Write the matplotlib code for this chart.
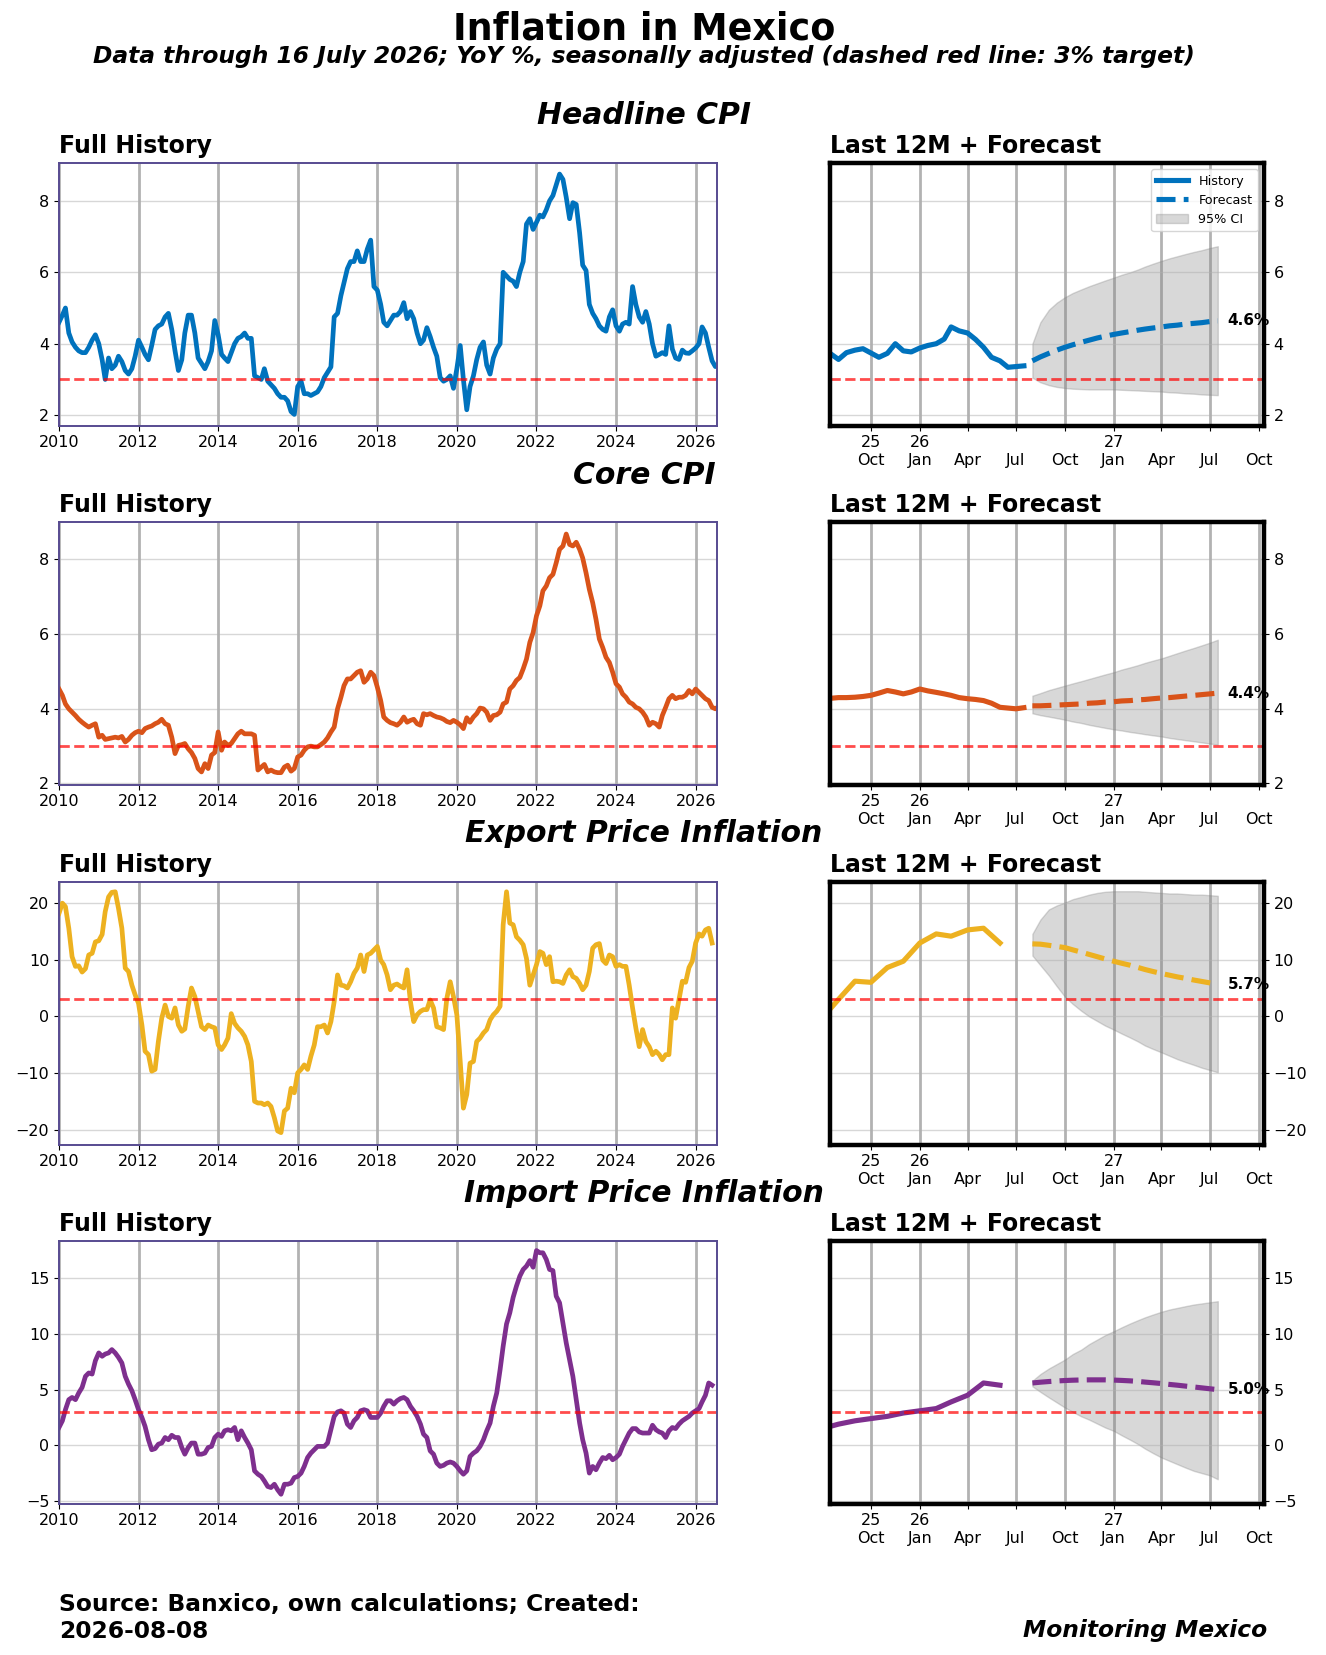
import matplotlib
matplotlib.use('Agg')
import matplotlib.pyplot as plt
import matplotlib.dates as mdates
import pandas as pd

plt.rcParams['font.family'] = ['DejaVu Sans']

# ---------------- data ----------------
headline_monthly = [
    4.6, 4.8, 5.0, 4.3, 4.05, 3.9, 3.8, 3.75, 3.75, 3.9,
    4.1, 4.25, 4.0, 3.55, 3.0, 3.6, 3.3, 3.4, 3.65, 3.5,
    3.25, 3.15, 3.3, 3.65, 4.1, 3.9, 3.7, 3.55, 3.95, 4.4,
    4.5, 4.55, 4.75, 4.85, 4.4, 3.8, 3.25, 3.55, 4.3, 4.8,
    4.8, 4.3, 3.6, 3.45, 3.3, 3.5, 3.8, 4.65, 4.25, 3.7,
    3.6, 3.5, 3.75, 4.0, 4.15, 4.2, 4.3, 4.15, 4.15, 3.1,
    3.05, 3.0, 3.3, 2.95, 2.85, 2.75, 2.6, 2.5, 2.5, 2.4,
    2.1, 2.02, 2.8, 2.95, 2.6, 2.6, 2.55, 2.6, 2.65, 2.8,
    3.05, 3.2, 3.35, 4.75, 4.85, 5.35, 5.7, 6.1, 6.3, 6.3,
    6.6, 6.3, 6.3, 6.65, 6.9, 5.6, 5.5, 5.1, 4.6, 4.5,
    4.65, 4.8, 4.8, 4.9, 5.15, 4.7, 4.9, 4.7, 4.3, 4.0,
    4.1, 4.45, 4.2, 3.9, 3.65, 3.05, 2.95, 3.0, 3.1, 2.75,
    3.3, 3.95, 3.0, 2.15, 2.8, 3.1, 3.55, 3.9, 4.05, 3.4,
    3.15, 3.6, 3.85, 4.0, 6.0, 5.9, 5.8, 5.75, 5.6, 6.0,
    6.3, 7.35, 7.5, 7.2, 7.4, 7.6, 7.55, 7.75, 8.0, 8.15,
    8.45, 8.75, 8.6, 8.1, 7.5, 7.95, 7.9, 7.1, 6.2, 6.05,
    5.1, 4.85, 4.7, 4.5, 4.4, 4.35, 4.75, 4.95, 4.5, 4.35,
    4.55, 4.6, 4.55, 5.6, 5.1, 4.75, 4.6, 4.9, 4.55, 4.0,
    3.65, 3.7, 3.75, 3.7, 4.5, 3.85, 3.6, 3.56, 3.82, 3.74,
    3.73, 3.8, 3.88, 4.0, 4.47, 4.3, 3.9, 3.52, 3.36, 3.38,
]

core_monthly = [
    4.53, 4.36, 4.13, 4.0, 3.91, 3.82, 3.72, 3.64, 3.57, 3.51,
    3.56, 3.6, 3.24, 3.29, 3.18, 3.2, 3.22, 3.24, 3.22, 3.26,
    3.11, 3.18, 3.29, 3.36, 3.4, 3.36, 3.47, 3.51, 3.54, 3.6,
    3.64, 3.72, 3.6, 3.56, 3.24, 2.8, 3.02, 3.04, 3.07, 2.93,
    2.83, 2.67, 2.4, 2.31, 2.53, 2.4, 2.76, 2.83, 3.38, 2.89,
    3.11, 3.02, 3.07, 3.2, 3.33, 3.4, 3.33, 3.33, 3.33, 3.29,
    2.36, 2.44, 2.51, 2.31, 2.36, 2.31, 2.29, 2.29, 2.44, 2.49,
    2.33, 2.4, 2.71, 2.76, 2.89, 2.98, 3.0, 2.98, 2.98, 3.04,
    3.11, 3.22, 3.38, 3.51, 4.0, 4.31, 4.62, 4.8, 4.8, 4.89,
    4.98, 5.02, 4.71, 4.8, 4.98, 4.89, 4.58, 4.22, 3.78, 3.69,
    3.63, 3.6, 3.56, 3.64, 3.78, 3.64, 3.69, 3.72, 3.6, 3.56,
    3.87, 3.84, 3.87, 3.82, 3.78, 3.76, 3.72, 3.66, 3.63, 3.69,
    3.64, 3.57, 3.47, 3.76, 3.64, 3.78, 3.87, 4.02, 4.0, 3.91,
    3.69, 3.82, 3.84, 3.91, 4.13, 4.18, 4.53, 4.62, 4.76, 4.84,
    5.07, 5.33, 5.78, 6.04, 6.49, 6.76, 7.16, 7.29, 7.51, 7.6,
    7.91, 8.27, 8.36, 8.68, 8.4, 8.36, 8.46, 8.27, 8.04, 7.64,
    7.2, 6.84, 6.4, 5.87, 5.64, 5.38, 5.24, 4.98, 4.67, 4.58,
    4.4, 4.31, 4.18, 4.13, 4.04, 4.0, 3.91, 3.78, 3.56, 3.64,
    3.6, 3.51, 3.82, 4.04, 4.27, 4.36, 4.27, 4.31, 4.31, 4.36,
    4.49, 4.4, 4.53, 4.44, 4.36, 4.27, 4.22, 4.04, 4.0, 4.03,
]

export_monthly = [
    18.1, 19.9, 19.3, 15.5, 10.5, 8.8, 8.9, 7.8, 8.4, 10.8,
    11.1, 13.1, 13.3, 14.4, 18.4, 21.0, 21.8, 21.9, 19.0, 15.5,
    8.5, 7.9, 5.5, 3.8, 2.3, -1.5, -6.1, -6.7, -9.6, -9.3,
    -4.4, -0.3, 2.0, 0.0, -0.3, 1.5, -1.5, -2.6, -2.2, 1.8,
    5.0, 3.5, 0.9, -1.8, -2.3, -1.5, -1.8, -2.0, -5.0, -5.8,
    -5.0, -3.8, 0.5, -1.2, -2.0, -2.6, -3.5, -5.0, -7.9, -14.9,
    -15.2, -15.2, -15.5, -15.2, -15.8, -17.8, -20.1, -20.4, -16.6, -16.1,
    -12.6, -13.4, -9.9, -9.3, -8.5, -9.3, -7.0, -5.0, -1.8, -1.8,
    -1.5, -2.9, -0.9, 2.6, 7.3, 5.5, 5.4, 5.0, 6.1, 7.6,
    8.5, 10.8, 7.9, 10.8, 11.1, 11.7, 12.3, 9.9, 9.1, 7.3,
    4.7, 5.5, 5.7, 5.3, 5.0, 8.2, 2.6, -0.9, 0.3, 0.9,
    1.2, 1.2, 2.9, 1.5, -1.8, -2.0, -2.3, 3.2, 6.1, 3.5,
    0.3, -7.9, -16.1, -13.7, -8.2, -7.9, -4.4, -3.8, -2.9, -2.3,
    -0.6, 0.3, 0.9, 1.8, 16.1, 21.9, 16.4, 16.1, 14.0, 13.4,
    12.6, 10.2, 5.5, 7.3, 9.1, 11.4, 11.1, 9.1, 10.5, 6.1,
    6.2, 6.1, 5.8, 7.3, 8.2, 7.0, 6.7, 5.8, 4.7, 5.5,
    7.9, 12.0, 12.6, 12.8, 9.9, 9.3, 10.8, 10.5, 8.8, 9.1,
    8.8, 8.8, 5.5, 1.5, -2.0, -5.3, -2.3, -4.4, -5.3, -6.7,
    -6.1, -6.7, -7.6, -6.7, -6.7, 1.5, -0.3, 3.0, 6.2, 6.0,
    8.6, 9.7, 12.9, 14.5, 14.1, 15.2, 15.5, 12.9,
]

import_monthly = [
    1.6, 2.2, 3.2, 4.1, 4.3, 4.1, 4.7, 5.2, 6.2, 6.5,
    6.4, 7.6, 8.3, 8.0, 8.2, 8.3, 8.6, 8.3, 7.9, 7.4,
    6.2, 5.5, 4.9, 4.1, 3.2, 2.5, 1.7, 0.5, -0.4, -0.3,
    0.1, 0.2, 0.7, 0.5, 0.9, 0.7, 0.7, -0.2, -0.8, -0.2,
    0.2, 0.2, -0.8, -0.8, -0.7, -0.2, -0.1, 0.7, 1.0, 0.8,
    1.3, 1.4, 1.3, 1.6, 0.5, 1.3, 0.7, 0.2, -0.4, -2.3,
    -2.6, -2.8, -3.2, -3.7, -3.8, -3.5, -4.0, -4.4, -3.5, -3.5,
    -3.4, -2.9, -2.8, -2.5, -1.9, -1.1, -0.7, -0.4, -0.1, -0.1,
    -0.1, 0.2, 1.4, 2.6, 3.0, 3.1, 2.9, 1.9, 1.6, 2.2,
    2.5, 3.1, 3.2, 3.1, 2.5, 2.5, 2.5, 2.9, 3.5, 4.0,
    4.0, 3.7, 4.0, 4.2, 4.3, 4.1, 3.5, 3.1, 2.6, 1.9,
    1.0, 0.7, -0.5, -0.8, -1.6, -1.9, -1.8, -1.6, -1.5, -1.6,
    -1.9, -2.3, -2.6, -2.3, -1.0, -0.7, -0.5, -0.1, 0.5, 1.3,
    2.0, 3.5, 4.7, 6.8, 8.9, 10.9, 11.9, 13.3, 14.3, 15.2,
    15.8, 16.1, 16.6, 16.0, 17.5, 17.3, 17.3, 16.7, 15.8, 15.7,
    13.4, 12.8, 11.0, 9.2, 7.7, 6.2, 4.1, 2.0, 0.5, -0.7,
    -2.5, -1.9, -2.2, -1.6, -1.1, -1.2, -0.9, -1.3, -1.1, -0.8,
    -0.1, 0.5, 1.1, 1.5, 1.5, 1.2, 1.1, 1.1, 1.1, 1.8,
    1.4, 1.2, 1.1, 0.7, 1.3, 1.6, 1.5, 1.9, 2.2, 2.4,
    2.6, 2.9, 3.1, 3.3, 3.9, 4.5, 5.6, 5.4,
]

# last 12 months, biweekly (16 Jul 2025 .. 16 Jul 2026)
headline_recent = [3.73, 3.56, 3.75, 3.82, 3.86, 3.74, 3.62, 3.73, 4.0, 3.8,
                   3.77, 3.88, 3.95, 4.0, 4.13, 4.47, 4.36, 4.3, 4.12, 3.9,
                   3.62, 3.52, 3.34, 3.36, 3.38]
core_recent = [4.28, 4.3, 4.3, 4.31, 4.33, 4.36, 4.42, 4.49, 4.45, 4.4,
               4.45, 4.53, 4.48, 4.44, 4.4, 4.36, 4.3, 4.27, 4.25, 4.22,
               4.15, 4.04, 4.02, 4.0, 4.03]

# forecasts, biweekly (1 Aug 2026 .. 16 Jul 2027)
headline_fc = [3.52, 3.63, 3.73, 3.82, 3.9, 3.97, 4.04, 4.1, 4.16, 4.21, 4.26, 4.3,
               4.34, 4.38, 4.41, 4.44, 4.47, 4.5, 4.52, 4.55, 4.57, 4.59, 4.62, 4.64]
headline_lo = [3.05, 2.92, 2.84, 2.79, 2.76, 2.74, 2.73, 2.72, 2.72, 2.72, 2.72, 2.71,
               2.7, 2.69, 2.68, 2.67, 2.66, 2.64, 2.63, 2.61, 2.6, 2.58, 2.57, 2.56]
headline_hi = [4.0, 4.6, 4.95, 5.15, 5.3, 5.42, 5.52, 5.61, 5.69, 5.77, 5.85, 5.93,
               6.0, 6.08, 6.16, 6.24, 6.32, 6.39, 6.45, 6.51, 6.57, 6.62, 6.68, 6.73]

core_fc = [4.08, 4.08, 4.09, 4.1, 4.11, 4.12, 4.13, 4.15, 4.16, 4.18, 4.19, 4.21,
           4.22, 4.24, 4.25, 4.27, 4.29, 4.3, 4.32, 4.34, 4.36, 4.38, 4.4, 4.42]
core_lo = [3.88, 3.83, 3.79, 3.75, 3.71, 3.66, 3.62, 3.57, 3.53, 3.49, 3.45, 3.42,
           3.38, 3.35, 3.32, 3.29, 3.26, 3.22, 3.19, 3.16, 3.13, 3.1, 3.07, 3.04]
core_hi = [4.35, 4.42, 4.5, 4.56, 4.62, 4.68, 4.74, 4.8, 4.86, 4.92, 4.98, 5.05,
           5.11, 5.17, 5.23, 5.29, 5.35, 5.42, 5.49, 5.56, 5.63, 5.7, 5.77, 5.85]

export_fc = [12.75, 12.7, 12.5, 12.3, 12.1, 11.7, 11.3, 10.9, 10.5, 10.1, 9.7, 9.35,
             9.0, 8.6, 8.25, 7.9, 7.55, 7.25, 6.95, 6.7, 6.4, 6.15, 5.9, 5.7]
export_lo = [10.7, 9.0, 7.2, 5.3, 3.5, 2.2, 1.0, 0.0, -0.8, -1.6, -2.3, -3.0,
             -3.7, -4.4, -5.1, -5.7, -6.3, -6.9, -7.5, -8.0, -8.5, -9.0, -9.4, -9.8]
export_hi = [14.5, 17.0, 18.8, 19.5, 20.0, 20.6, 21.0, 21.4, 21.7, 21.9, 22.0, 22.0,
             22.0, 22.0, 21.9, 21.8, 21.7, 21.6, 21.6, 21.5, 21.4, 21.4, 21.3, 21.2]

import_fc = [5.6, 5.67, 5.73, 5.78, 5.82, 5.85, 5.87, 5.88, 5.88, 5.88, 5.86, 5.83,
             5.79, 5.74, 5.68, 5.62, 5.55, 5.47, 5.4, 5.32, 5.24, 5.16, 5.08, 5.0]
import_lo = [5.3, 4.8, 4.3, 3.85, 3.4, 3.0, 2.6, 2.3, 1.95, 1.6, 1.3, 0.9,
             0.5, 0.1, -0.3, -0.7, -1.1, -1.4, -1.7, -2.0, -2.3, -2.5, -2.7, -3.05]
import_hi = [5.8, 6.4, 6.9, 7.3, 7.7, 8.2, 8.6, 9.1, 9.5, 9.9, 10.25, 10.6,
             10.95, 11.25, 11.5, 11.75, 12.0, 12.2, 12.35, 12.5, 12.65, 12.75, 12.85, 12.95]

section_titles = ['Headline CPI', 'Core CPI', 'Export Price Inflation', 'Import Price Inflation']
colors = ['#0072BD', '#D95319', '#EDB120', '#7E2F8E']
ylims = [(1.71, 9.06), (1.97, 9.0), (-22.5, 23.6), (-5.24, 18.35)]
yticks = [[2, 4, 6, 8], [2, 4, 6, 8], [-20, -10, 0, 10, 20], [-5, 0, 5, 10, 15]]
right_tick_labels = ['25\nOct', '26\nJan', '\nApr', '\nJul', '\nOct', '27\nJan', '\nApr', '\nJul', '\nOct']
TARGET = 3.0


def biweekly(start, end):
    start, end = pd.Timestamp(start), pd.Timestamp(end)
    months = pd.date_range(start.replace(day=1), end, freq='MS')
    out = []
    for m in months:
        for d in (m, m + pd.Timedelta(days=15)):
            if start <= d <= end:
                out.append(d)
    return out


cpi_dates = list(pd.date_range('2010-01-01', '2026-07-01', freq='MS')) + [pd.Timestamp('2026-07-16')]
trade_dates = list(pd.date_range('2010-01-01', '2026-06-01', freq='MS'))
recent_bw = biweekly('2025-07-16', '2026-07-16')
fc_dates = biweekly('2026-08-01', '2027-07-16')

rows = [
    (cpi_dates, headline_monthly, recent_bw, headline_recent, headline_fc, headline_lo, headline_hi),
    (cpi_dates, core_monthly, recent_bw, core_recent, core_fc, core_lo, core_hi),
    (trade_dates, export_monthly, trade_dates[-12:], export_monthly[-12:], export_fc, export_lo, export_hi),
    (trade_dates, import_monthly, trade_dates[-12:], import_monthly[-12:], import_fc, import_lo, import_hi),
]

# ---------------- figure ----------------
W, H = 1326, 1655
fig = plt.figure(figsize=(W / 100, H / 100), dpi=100)

left_x, left_w = 59 / W, 658 / W
right_x, right_w = 830 / W, 434 / W
ax_h = 262.5 / H
row_bottom_px = [425.5, 784.6, 1144.6, 1503.6]
section_y_px = [116, 475, 834, 1193]

fig.text(644 / W, 1 - 29 / H, 'Inflation in Mexico', ha='center', va='center',
         fontsize=26.3, fontweight='bold')
fig.text(644 / W, 1 - 57 / H,
         'Data through 16 July 2026; YoY %, seasonally adjusted (dashed red line: 3% target)',
         ha='center', va='center', fontsize=16.8, fontweight='bold', style='italic')

xlim_left = (pd.Timestamp('2010-01-01'), pd.Timestamp('2026-07-16'))
xlim_right = (pd.Timestamp('2025-07-16'), pd.Timestamp('2027-10-11'))
right_ticks = list(pd.date_range('2025-10-01', '2027-10-01', freq='QS-JAN'))

for i, (dts, vals, rdts, rvals, fc, lo, hi) in enumerate(rows):
    color = colors[i]
    bottom = 1 - row_bottom_px[i] / H

    # ----- full history -----
    axL = fig.add_axes([left_x, bottom, left_w, ax_h])
    axL.plot(dts, vals, color=color, lw=3.4, solid_joinstyle='round')
    axL.axhline(TARGET, color='red', ls='--', lw=2, alpha=0.7)
    axL.set_xlim(*xlim_left)
    axL.xaxis.set_major_locator(mdates.YearLocator(2))
    axL.xaxis.set_major_formatter(mdates.DateFormatter('%Y'))
    axL.set_ylim(*ylims[i])
    axL.set_yticks(yticks[i])
    axL.grid(axis='x', color='gray', alpha=0.6, lw=2)
    axL.grid(axis='y', color='#b0b0b0', alpha=0.5, lw=1)
    for s in axL.spines.values():
        s.set_color('#574b90')
        s.set_linewidth(1.4)
    axL.tick_params(labelsize=11.5)
    axL.set_title('Full History', loc='left', fontsize=17, fontweight='bold', pad=7)

    # ----- last 12M + forecast -----
    axR = fig.add_axes([right_x, bottom, right_w, ax_h])
    axR.plot(rdts, rvals, color=color, lw=3.7, label='History')
    axR.plot(fc_dates, fc, color=color, lw=3.7, ls='--', label='Forecast')
    axR.fill_between(fc_dates, lo, hi, color='gray', alpha=0.3, label='95% CI')
    axR.axhline(TARGET, color='red', ls='--', lw=2, alpha=0.7)
    axR.annotate(f'{fc[-1]:.1f}%', xy=(fc_dates[-1], fc[-1]), xytext=(7, 0),
                 textcoords='offset points', va='center', ha='left',
                 fontsize=11, fontweight='bold')
    axR.set_xlim(*xlim_right)
    axR.set_xticks(right_ticks)
    axR.set_xticklabels(right_tick_labels)
    axR.set_ylim(*ylims[i])
    axR.set_yticks(yticks[i])
    axR.yaxis.tick_right()
    axR.grid(axis='x', color='gray', alpha=0.6, lw=2)
    axR.grid(axis='y', color='#b0b0b0', alpha=0.5, lw=1)
    for s in axR.spines.values():
        s.set_color('black')
        s.set_linewidth(3.2)
    axR.tick_params(labelsize=11.5)
    axR.set_title('Last 12M + Forecast', loc='left', fontsize=17, fontweight='bold', pad=7)
    if i == 0:
        axR.legend(loc='upper right', fontsize=9.2, handlelength=2.5)

    fig.text(644 / W, 1 - section_y_px[i] / H, section_titles[i], ha='center', va='center',
             fontsize=21.5, fontweight='bold', style='italic')

fig.text(59 / W, 1 - 1618 / H, 'Source: Banxico, own calculations; Created:\n2026-08-08',
         ha='left', va='center', fontsize=16.8, fontweight='bold')
fig.text(1267 / W, 1 - 1631 / H, 'Monitoring Mexico', ha='right', va='center',
         fontsize=16.8, fontweight='bold', style='italic')

fig.savefig('out.png', dpi=100)
